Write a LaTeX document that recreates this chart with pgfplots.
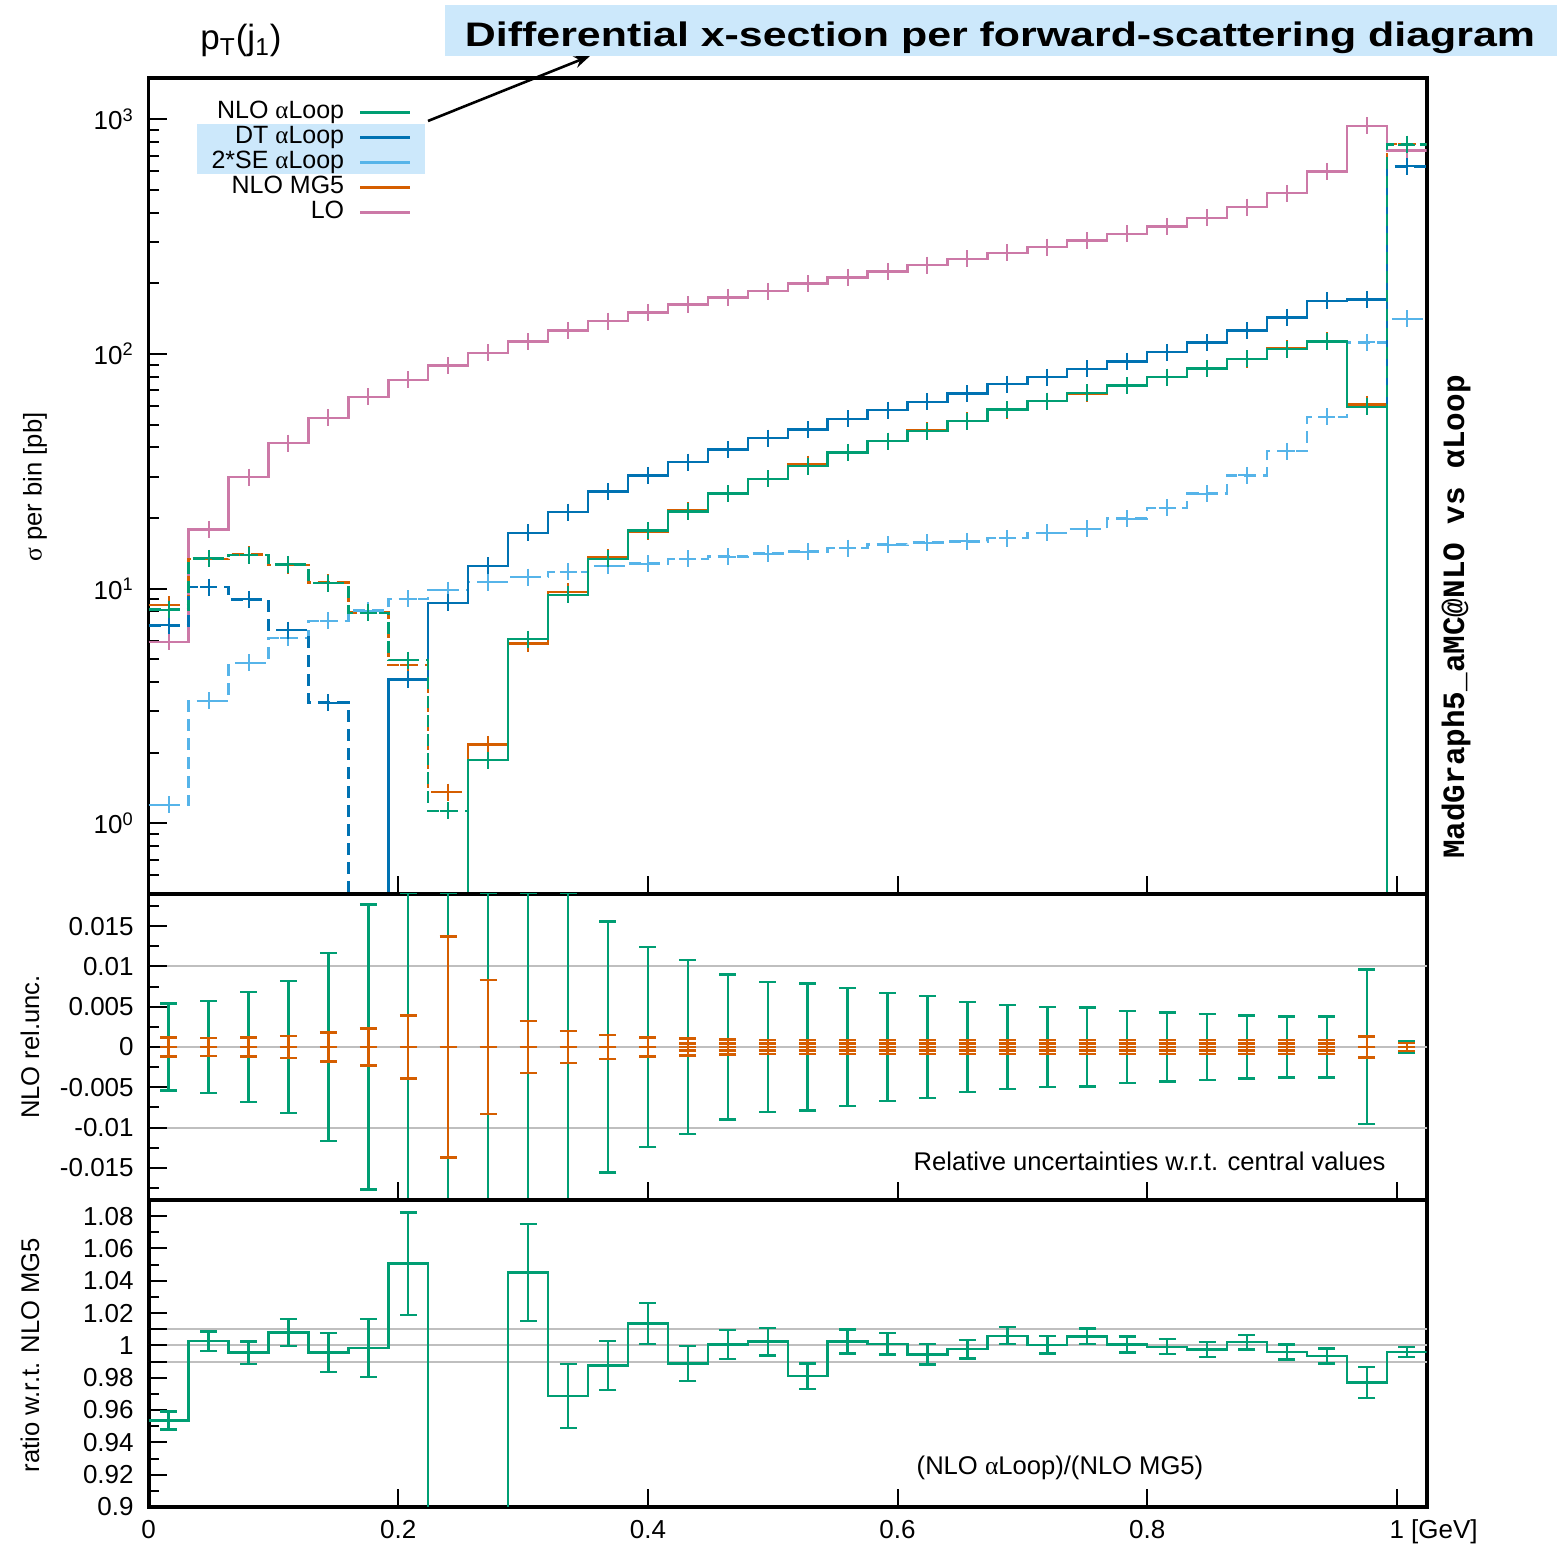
\documentclass[border=0pt]{standalone}
\usepackage{fontspec}
\setmainfont{Liberation Sans}
\newfontfamily\grk{Liberation Serif}
\newfontfamily\mono{Liberation Mono}
\usepackage{pgfplots}
\usepackage{pgfplotstable}
\pgfplotsset{compat=1.18}
\usetikzlibrary{arrows.meta}

\definecolor{cnlo}{HTML}{009E73}
\definecolor{cdt}{HTML}{0072B2}
\definecolor{cse}{HTML}{56B4E9}
\definecolor{cmg}{HTML}{D55E00}
\definecolor{clo}{HTML}{CC79A7}
\definecolor{hl}{RGB}{204,232,251}

\newcommand\aL{{\grk α}Loop}

% bins of width 0.032; xlo = lower edge, xc = centre
% val = |sigma|, pos = positive part, neg = |negative part| (0.01 = off scale)
\pgfplotstableread{
xlo xc val
0.000 0.016 5.94
0.032 0.048 17.9
0.064 0.080 29.9
0.096 0.112 41.7
0.128 0.144 53.4
0.160 0.176 65.7
0.192 0.208 77.5
0.224 0.240 89.2
0.256 0.272 101
0.288 0.304 113
0.320 0.336 126
0.352 0.368 138
0.384 0.400 150.5
0.416 0.432 162.4
0.448 0.464 174.4
0.480 0.496 185
0.512 0.528 199.5
0.544 0.560 212
0.576 0.592 225
0.608 0.624 239
0.640 0.656 254
0.672 0.688 269.6
0.704 0.720 285
0.736 0.752 304
0.768 0.784 325
0.800 0.816 350
0.832 0.848 380
0.864 0.880 422
0.896 0.912 484
0.928 0.944 600
0.960 0.976 939
0.992 1.008 735
1.024 nan 735
}\tlo

\pgfplotstableread{
xlo xc val pos neg
0.000 0.016 6.97 0.01 6.97
0.032 0.048 10.15 0.01 10.15
0.064 0.080 9.0 0.01 9.0
0.096 0.112 6.66 0.01 6.66
0.128 0.144 3.27 0.01 3.27
0.160 nan 0.01 0.01 0.01
0.192 0.208 4.1 4.1 0.01
0.224 0.240 8.7 8.7 0.01
0.256 0.272 12.5 12.5 0.01
0.288 0.304 17.3 17.3 0.01
0.320 0.336 21.2 21.2 0.01
0.352 0.368 25.9 25.9 0.01
0.384 0.400 30.4 30.4 0.01
0.416 0.432 34.6 34.6 0.01
0.448 0.464 39.2 39.2 0.01
0.480 0.496 43.8 43.8 0.01
0.512 0.528 47.6 47.6 0.01
0.544 0.560 52.9 52.9 0.01
0.576 0.592 57.6 57.6 0.01
0.608 0.624 62.5 62.5 0.01
0.640 0.656 67.8 67.8 0.01
0.672 0.688 74.4 74.4 0.01
0.704 0.720 79.6 79.6 0.01
0.736 0.752 86.4 86.4 0.01
0.768 0.784 93 93 0.01
0.800 0.816 101.7 101.7 0.01
0.832 0.848 111.8 111.8 0.01
0.864 0.880 125.8 125.8 0.01
0.896 0.912 143.3 143.3 0.01
0.928 0.944 168.5 168.5 0.01
0.960 0.976 171 171 0.01
0.992 1.008 630 0.01 630
1.024 nan 630 0.01 630
}\tdt

\pgfplotstableread{
xlo xc val
0.000 0.016 1.2
0.032 0.048 3.33
0.064 0.080 4.83
0.096 0.112 6.18
0.128 0.144 7.3
0.160 0.176 8.07
0.192 0.208 9.06
0.224 0.240 9.85
0.256 0.272 10.66
0.288 0.304 11.2
0.320 0.336 11.8
0.352 0.368 12.5
0.384 0.400 12.8
0.416 0.432 13.4
0.448 0.464 13.7
0.480 0.496 14.1
0.512 0.528 14.4
0.544 0.560 14.9
0.576 0.592 15.4
0.608 0.624 15.7
0.640 0.656 15.9
0.672 0.688 16.4
0.704 0.720 17.3
0.736 0.752 18.0
0.768 0.784 19.9
0.800 0.816 22.1
0.832 0.848 25.4
0.864 0.880 30.4
0.896 0.912 38.5
0.928 0.944 54
0.960 0.976 112
0.992 1.008 141
1.024 nan 141
}\tse

\pgfplotstableread{
xlo xc val pos neg
0.000 0.016 8.54 0.01 8.54
0.032 0.048 13.41 0.01 13.41
0.064 0.080 13.96 0.01 13.96
0.096 0.112 12.6 0.01 12.6
0.128 0.144 10.61 0.01 10.61
0.160 0.176 7.91 0.01 7.91
0.192 0.208 4.72 0.01 4.72
0.224 0.240 1.36 0.01 1.36
0.256 0.272 2.17 2.17 0.01
0.288 0.304 5.84 5.84 0.01
0.320 0.336 9.7 9.7 0.01
0.352 0.368 13.57 13.57 0.01
0.384 0.400 17.46 17.46 0.01
0.416 0.432 21.54 21.54 0.01
0.448 0.464 25.38 25.38 0.01
0.480 0.496 29.33 29.33 0.01
0.512 0.528 33.95 33.95 0.01
0.544 0.560 38.0 38.0 0.01
0.576 0.592 42.46 42.46 0.01
0.608 0.624 47.16 47.16 0.01
0.640 0.656 51.82 51.82 0.01
0.672 0.688 57.65 57.65 0.01
0.704 0.720 62.87 62.87 0.01
0.736 0.752 67.92 67.92 0.01
0.768 0.784 73.26 73.26 0.01
0.800 0.816 79.66 79.66 0.01
0.832 0.848 86.92 86.92 0.01
0.864 0.880 95.11 95.11 0.01
0.896 0.912 105.4 105.4 0.01
0.928 0.944 113.75 113.75 0.01
0.960 0.976 61.0 61.0 0.01
0.992 1.008 783 0.01 783
1.024 nan 783 0.01 783
}\tmg

\pgfplotstableread{
xlo xc val pos neg
0.000 0.016 8.14 0.01 8.14
0.032 0.048 13.45 0.01 13.45
0.064 0.080 13.9 0.01 13.9
0.096 0.112 12.7 0.01 12.7
0.128 0.144 10.56 0.01 10.56
0.160 0.176 7.9 0.01 7.9
0.192 0.208 4.96 0.01 4.96
0.224 0.240 1.13 0.01 1.13
0.256 0.272 1.86 1.86 0.01
0.288 0.304 6.1 6.1 0.01
0.320 0.336 9.4 9.4 0.01
0.352 0.368 13.4 13.4 0.01
0.384 0.400 17.7 17.7 0.01
0.416 0.432 21.3 21.3 0.01
0.448 0.464 25.4 25.4 0.01
0.480 0.496 29.4 29.4 0.01
0.512 0.528 33.3 33.3 0.01
0.544 0.560 38.1 38.1 0.01
0.576 0.592 42.5 42.5 0.01
0.608 0.624 46.9 46.9 0.01
0.640 0.656 51.7 51.7 0.01
0.672 0.688 58 58 0.01
0.704 0.720 62.9 62.9 0.01
0.736 0.752 68.3 68.3 0.01
0.768 0.784 73.3 73.3 0.01
0.800 0.816 79.6 79.6 0.01
0.832 0.848 86.7 86.7 0.01
0.864 0.880 95.3 95.3 0.01
0.896 0.912 105 105 0.01
0.928 0.944 113 113 0.01
0.960 0.976 59.6 59.6 0.01
0.992 1.008 780 0.01 780
1.024 nan 780 0.01 780
}\tnlo

% relative uncertainties: eg = NLO aLoop, eo = NLO MG5, ei = inner MG5 band
\pgfplotstableread{
xc y eg eo ei
0.016 0 0.0054 0.0012 0
0.048 0 0.0057 0.00115 0
0.080 0 0.0068 0.0012 0
0.112 0 0.0082 0.0014 0
0.144 0 0.0117 0.0018 0
0.176 0 0.0177 0.0023 0
0.208 0 0.0191 0.0039 0
0.240 0 0.0191 0.0137 0
0.272 0 0.0191 0.0083 0
0.304 0 0.0191 0.0032 0
0.336 0 0.0191 0.0020 0
0.368 0 0.0156 0.0015 0
0.400 0 0.0124 0.0012 0
0.432 0 0.0108 0.00105 0.00045
0.464 0 0.0090 0.00095 0.00045
0.496 0 0.0081 0.0009 0.00045
0.528 0 0.0079 0.00088 0.00045
0.560 0 0.0073 0.00085 0.00045
0.592 0 0.0067 0.00085 0.00045
0.624 0 0.0063 0.00085 0.00045
0.656 0 0.0056 0.00085 0.00045
0.688 0 0.0052 0.00085 0.00045
0.720 0 0.0050 0.00085 0.00045
0.752 0 0.0049 0.00085 0.00045
0.784 0 0.0045 0.00085 0.00045
0.816 0 0.0043 0.00085 0.00045
0.848 0 0.0041 0.00085 0.00045
0.880 0 0.0039 0.00085 0.00045
0.912 0 0.0038 0.00085 0.00045
0.944 0 0.0038 0.00085 0.00045
0.976 0 0.0096 0.0013 0
1.008 0 0.0007 0.0005 0
}\tunc

% ratio NLO aLoop / NLO MG5
\pgfplotstableread{
xlo xc r e
0.000 0.016 0.9536 0.0056
0.032 0.048 1.0027 0.006
0.064 0.080 0.9955 0.007
0.096 0.112 1.0079 0.0083
0.128 0.144 0.9955 0.012
0.160 0.176 0.9983 0.018
0.192 0.208 1.0506 0.0316
0.224 nan 0.83 0.03
0.256 nan 0.857 0.03
0.288 0.304 1.0452 0.030
0.320 0.336 0.9686 0.0198
0.352 0.368 0.9876 0.0153
0.384 0.400 1.0136 0.0126
0.416 0.432 0.9889 0.0108
0.448 0.464 1.0006 0.009
0.480 0.496 1.0023 0.0085
0.512 0.528 0.981 0.0078
0.544 0.560 1.0025 0.0074
0.576 0.592 1.001 0.0066
0.608 0.624 0.9944 0.0063
0.640 0.656 0.9977 0.0057
0.672 0.688 1.006 0.0053
0.704 0.720 1.0004 0.0053
0.736 0.752 1.0056 0.0048
0.768 0.784 1.0006 0.0049
0.800 0.816 0.9992 0.0046
0.832 0.848 0.9975 0.0045
0.864 0.880 1.002 0.0046
0.896 0.912 0.9959 0.0046
0.928 0.944 0.9934 0.0046
0.960 0.976 0.977 0.0097
0.992 1.008 0.9959 0.003
1.024 nan 0.9959 nan
}\trat

\pgfplotsset{
  panel/.style={
    scale only axis, width=639pt, anchor=south west,
    xmin=0, xmax=1.024,
    xtick={0,0.2,0.4,0.6,0.8,1},
    tick pos=left, tick align=inside,
    major tick length=9pt, minor tick length=5pt,
    tick style={black, line width=1pt},
    axis line style={line width=1.8pt},
    tick label style={font=\fontsize{13}{15}\selectfont},
    yticklabel style={xshift=-4pt},
    xticklabel style={yshift=-3pt},
    scaled y ticks=false, scaled x ticks=false,
    clip marker paths=true,
    unbounded coords=discard,
  },
  hist/.style={line width=1.2pt, const plot mark left},
  neg/.style={dash pattern=on 6pt off 3.5pt},
  cross/.style={only marks, mark=+, mark size=4.25pt, mark options={solid, line width=1pt}},
  ebar/.style={only marks, mark=-, mark size=4.25pt, mark options={solid, line width=1.2pt},
    error bars/.cd, y dir=both, y explicit,
    error bar style={line width=1.2pt, solid},
    error mark options={rotate=90, #1, line width=1.2pt, mark size=4.25pt}},
}

\begin{document}
\begin{tikzpicture}
\useasboundingbox (0,0) rectangle (782pt,773.5pt);

% highlights
\fill[hl] (222.5pt,745.5pt) rectangle (778.5pt,771pt);
\fill[hl] (98.5pt,686.5pt) rectangle (212.5pt,711.5pt);

% top panel
\begin{axis}[panel, at={(74.35pt,326.5pt)}, height=408pt,
  ymode=log, ymin=0.5, ymax=1500,
  ytick={1,10,100,1000},
  yticklabels={10\textsuperscript{0},10\textsuperscript{1},10\textsuperscript{2},10\textsuperscript{3}},
  minor ytick={0.6,0.7,0.8,0.9,2,3,4,5,6,7,8,9,20,30,40,50,60,70,80,90,200,300,400,500,600,700,800,900},
  xticklabels={},
  legend style={at={(0.206,0.9735)}, anchor=north east, draw=none, fill=none,
    font=\fontsize{12.5}{14}\selectfont, inner sep=0pt, row sep=0pt, column sep=7.5pt,
    nodes={inner sep=0pt, text height=9pt, text depth=3.5pt}},
  legend cell align=right, legend plot pos=right,
  legend image code/.code={\draw[#1] (0pt,0pt) -- (25pt,0pt);},
]
\addplot[forget plot, clo, hist] table[x=xlo, y=val] \tlo;
\addplot[forget plot, clo, cross] table[x=xc, y=val] \tlo;
\addplot[forget plot, cmg, hist] table[x=xlo, y=pos] \tmg;
\addplot[forget plot, cmg, hist, neg] table[x=xlo, y=neg] \tmg;
\addplot[forget plot, cmg, cross] table[x=xc, y=val] \tmg;
\addplot[forget plot, cse, hist, neg] table[x=xlo, y=val] \tse;
\addplot[forget plot, cse, cross] table[x=xc, y=val] \tse;
\addplot[forget plot, cdt, hist] table[x=xlo, y=pos] \tdt;
\addplot[forget plot, cdt, hist, neg] table[x=xlo, y=neg] \tdt;
\addplot[forget plot, cdt, cross] table[x=xc, y=val] \tdt;
\addplot[forget plot, cnlo, hist] table[x=xlo, y=pos] \tnlo;
\addplot[forget plot, cnlo, hist, neg] table[x=xlo, y=neg] \tnlo;
\addplot[forget plot, cnlo, cross] table[x=xc, y=val] \tnlo;
\addlegendimage{cnlo, line width=1.2pt}
\addlegendentry{NLO \aL}
\addlegendimage{cdt, line width=1.2pt}
\addlegendentry{DT \aL}
\addlegendimage{cse, line width=1.2pt}
\addlegendentry{2*SE \aL}
\addlegendimage{cmg, line width=1.2pt}
\addlegendentry{NLO MG5}
\addlegendimage{clo, line width=1.2pt}
\addlegendentry{LO}
\end{axis}

% middle panel
\begin{axis}[panel, at={(74.35pt,173.5pt)}, height=153pt,
  ymin=-0.019, ymax=0.019,
  ytick={-0.015,-0.01,-0.005,0,0.005,0.01,0.015},
  yticklabels={-0.015,-0.01,-0.005,0,0.005,0.01,0.015},
  minor ytick={-0.0175,-0.0125,-0.0075,-0.0025,0.0025,0.0075,0.0125,0.0175},
  extra y ticks={-0.01,0,0.01}, extra y tick labels={},
  extra y tick style={grid=major, major grid style={black!25, line width=1pt}},
  xticklabels={},
]
\addplot[cnlo, ebar=cnlo] table[x=xc, y=y, y error=eg] \tunc;
\addplot[cmg, ebar=cmg] table[x=xc, y=y, y error=eo] \tunc;
\addplot[cmg, ebar=cmg] table[x=xc, y=y, y error=ei] \tunc;
\end{axis}

% bottom panel
\begin{axis}[panel, at={(74.35pt,20pt)}, height=153.5pt,
  ymin=0.9, ymax=1.09,
  ytick={0.9,0.92,0.94,0.96,0.98,1,1.02,1.04,1.06,1.08},
  yticklabels={0.9,0.92,0.94,0.96,0.98,1,1.02,1.04,1.06,1.08},
  minor ytick={0.91,0.93,0.95,0.97,0.99,1.01,1.03,1.05,1.07,1.09},
  extra y ticks={0.99,1,1.01}, extra y tick labels={},
  extra y tick style={grid=major, major grid style={black!25, line width=1pt}},
  xticklabels={0,0.2,0.4,0.6,0.8,1\rlap{ [GeV]}},
]
\addplot[cnlo, hist] table[x=xlo, y=r] \trat;
\addplot[cnlo, ebar=cnlo] table[x=xc, y=r, y error=e] \trat;
\end{axis}

% texts and annotations
\node[anchor=base west, inner sep=0pt, font=\fontsize{17.5}{20}\selectfont] at (100pt,748.5pt) {p\textsubscript{T}(j\textsubscript{1})};
\node[anchor=base, inner sep=0pt] at (500pt,750pt) {\resizebox{535pt}{\height}{\fontsize{17}{20}\selectfont\bfseries Differential x-section per forward-scattering diagram}};
\draw[line width=1.3pt, -{Stealth[length=8pt,width=6pt]}] (214pt,713pt) -- (295pt,745.5pt);

\node[rotate=90, font=\fontsize{12.8}{15}\selectfont] at (17.5pt,530pt) {{\grk σ} per bin [pb]};
\node[rotate=90, font=\fontsize{12.8}{15}\selectfont] at (15pt,250pt) {NLO rel.unc.};
\node[rotate=90, font=\fontsize{12.8}{15}\selectfont] at (15pt,96pt) {ratio w.r.t. NLO MG5};
\node[rotate=90, font=\mono\bfseries\fontsize{15.5}{18}\selectfont] at (728pt,465pt) {MadGraph5\_aMC@NLO vs αLoop};

\node[anchor=base east, inner sep=0pt, font=\fontsize{12.8}{15}\selectfont] at (693pt,188pt) {Relative uncertainties w.r.t. central values};
\node[anchor=base, inner sep=0pt, font=\fontsize{12.8}{15}\selectfont] at (530pt,36pt) {(NLO \aL)/(NLO MG5)};
\end{tikzpicture}
\end{document}
